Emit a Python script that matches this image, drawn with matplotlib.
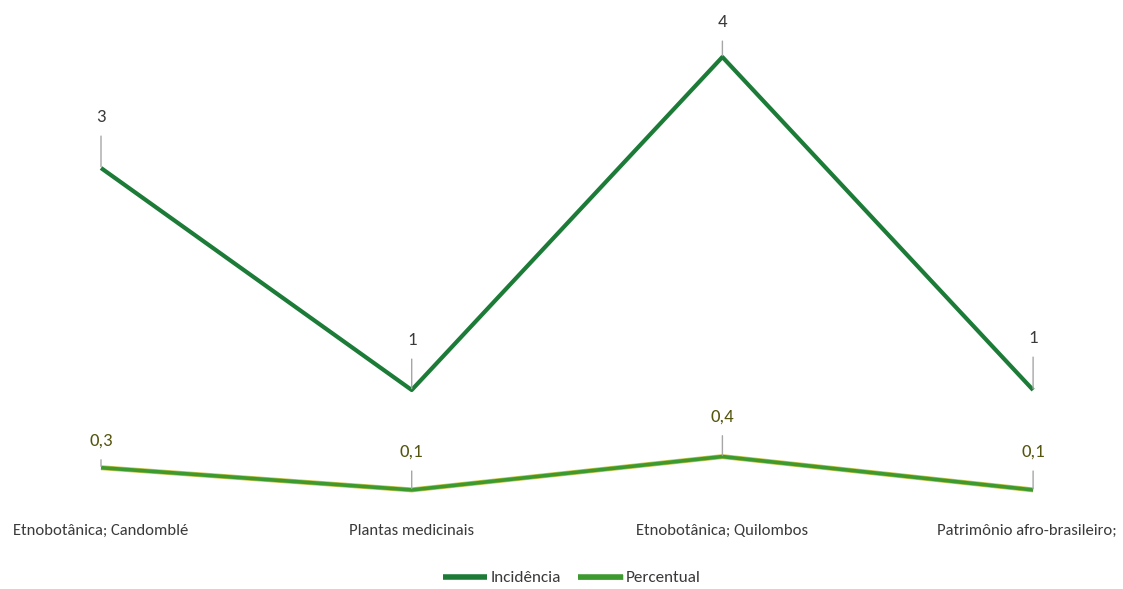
import matplotlib
matplotlib.use("Agg")
import matplotlib.pyplot as plt
import matplotlib.patheffects as pe
from matplotlib import font_manager

categories = ["Etnobotânica; Candomblé", "Plantas medicinais", "Etnobotânica; Quilombos", "Patrimônio afro-brasileiro;"]
incidencia = [3, 1, 4, 1]
percentual = [0.3, 0.1, 0.4, 0.1]
inc_labels = ["3", "1", "4", "1"]
pct_labels = ["0,3", "0,1", "0,4", "0,1"]

names = {f.name for f in font_manager.fontManager.ttflist}
fam = "DejaVu Sans"
for cand in ["Carlito", "Liberation Sans Narrow", "Lato"]:
    if cand in names:
        fam = cand
        break
plt.rcParams['font.family'] = [fam, 'DejaVu Sans']

W, H = 1123, 589
fig = plt.figure(figsize=(W/100, H/100), dpi=100)
ax = fig.add_axes([0, 0, 1, 1])
x = list(range(len(categories)))
ax.set_xlim(-101/310.7, (W-101)/310.7)
ax.set_ylim(-88/111, 501/111)
ax.axis('off')

dark = '#1b7b37'
light = '#3d9a2f'
ax.plot(x, incidencia, color=dark, lw=3.0, solid_capstyle='butt', label='Incidência', zorder=3)
ax.plot(x, percentual, color=light, lw=2.6, solid_capstyle='butt', label='Percentual', zorder=3,
        path_effects=[pe.Stroke(linewidth=3.6, foreground='#c9c34a'), pe.Normal()])

inc_off = [51, 50, 35, 52]
pct_off = [27, 38, 40, 38]
for xi, v, t, o in zip(x, incidencia, inc_labels, inc_off):
    ax.annotate(t, (xi, v), xytext=(0, o), textcoords='offset pixels', ha='center', va='center',
                fontsize=13.5, color='#3a3a3a',
                arrowprops=dict(arrowstyle='-', color='#a6a6a6', lw=1, shrinkA=6, shrinkB=1))
for xi, v, t, o in zip(x, percentual, pct_labels, pct_off):
    ax.annotate(t, (xi, v), xytext=(0, o), textcoords='offset pixels', ha='center', va='center',
                fontsize=13.5, color='#55550f',
                arrowprops=dict(arrowstyle='-', color='#a6a6a6', lw=1, shrinkA=6, shrinkB=1))

cat_shift = [0, 0, 0, -6]
for xi, c, s in zip(x, categories, cat_shift):
    ax.annotate(c, (xi, 0), xytext=(s, -30), textcoords='offset pixels', ha='center', va='center',
                fontsize=12.0, color='#3a3a3a')

leg = fig.legend(loc='center', bbox_to_anchor=(572/W, 1 - 578/H), ncol=2, frameon=False,
                 fontsize=12.3, handlelength=2.6, handletextpad=0.2, columnspacing=1.0)
for txt in leg.get_texts():
    txt.set_color('#3a3a3a')
for h in leg.legend_handles:
    h.set_linewidth(4)

fig.savefig('out.png', dpi=100)
